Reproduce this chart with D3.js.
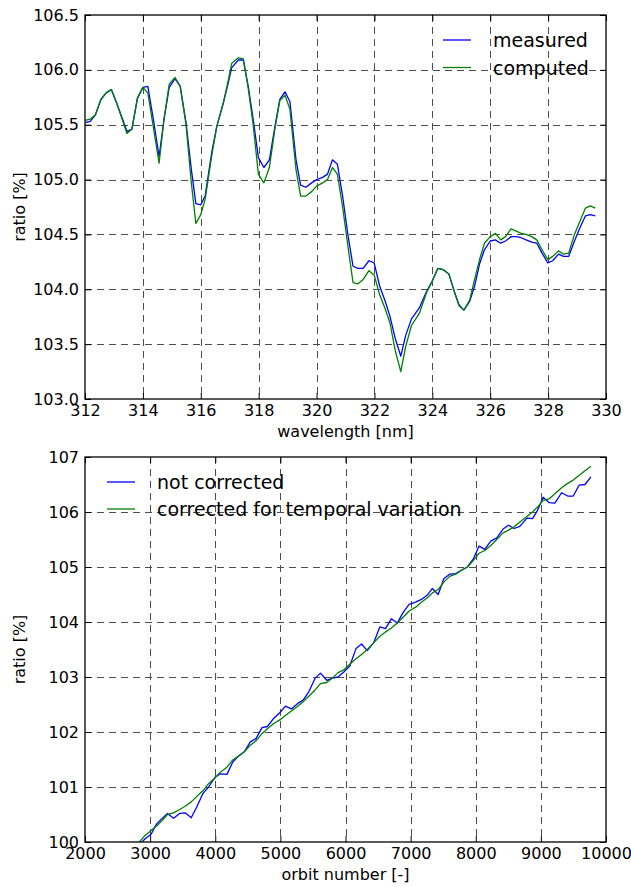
<!DOCTYPE html>
<html>
<head>
<meta charset="utf-8">
<script src="https://cdn.jsdelivr.net/npm/d3@7"></script>
<style>
  html, body { margin: 0; padding: 0; background: #fff; }
  svg { display: block; }
  text { font-family: "DejaVu Sans", sans-serif; fill: #000; }
</style>
</head>
<body>
<svg id="chart" width="631" height="887"></svg>
<script>
// ---------- Top panel data ----------
const wavelength = [312.01,312.18,312.36,312.55,312.73,312.91,313.09,313.27,313.45,313.62,313.81,314.00,314.17,314.36,314.56,314.73,314.91,315.11,315.29,315.49,315.67,315.83,316.00,316.15,316.38,316.55,316.78,316.93,317.07,317.30,317.47,317.64,317.81,317.99,318.18,318.37,318.56,318.73,318.91,319.08,319.29,319.45,319.63,319.83,320.00,320.21,320.38,320.55,320.72,320.90,321.08,321.26,321.43,321.61,321.81,321.99,322.18,322.36,322.53,322.72,322.91,323.08,323.28,323.55,323.80,323.99,324.19,324.37,324.57,324.77,324.92,325.09,325.29,325.46,325.63,325.80,326.00,326.18,326.36,326.53,326.72,326.90,327.07,327.24,327.43,327.61,327.79,327.99,328.16,328.36,328.53,328.71,328.91,329.10,329.29,329.46,329.63];
const measured = [105.52,105.53,105.59,105.73,105.79,105.82,105.70,105.57,105.44,105.46,105.74,105.84,105.85,105.55,105.21,105.55,105.84,105.92,105.85,105.52,105.10,104.78,104.77,104.85,105.25,105.48,105.70,105.86,106.02,106.09,106.09,105.85,105.55,105.20,105.11,105.18,105.48,105.73,105.80,105.71,105.18,104.95,104.93,104.97,105.00,105.02,105.05,105.18,105.14,104.85,104.50,104.21,104.19,104.19,104.26,104.24,104.03,103.90,103.76,103.55,103.39,103.58,103.73,103.83,103.98,104.07,104.19,104.18,104.14,103.97,103.86,103.81,103.89,104.03,104.23,104.36,104.44,104.45,104.42,104.44,104.48,104.48,104.47,104.45,104.43,104.42,104.33,104.24,104.26,104.32,104.30,104.30,104.44,104.56,104.67,104.68,104.67];
const computed = [105.54,105.55,105.59,105.73,105.79,105.82,105.70,105.56,105.42,105.46,105.74,105.84,105.79,105.48,105.15,105.55,105.87,105.93,105.85,105.50,104.98,104.60,104.68,104.82,105.22,105.48,105.70,105.88,106.06,106.11,106.10,105.83,105.50,105.05,104.97,105.11,105.46,105.72,105.77,105.64,105.09,104.85,104.85,104.89,104.94,104.97,105.00,105.11,105.05,104.75,104.40,104.06,104.05,104.09,104.17,104.13,103.95,103.83,103.70,103.44,103.25,103.48,103.67,103.78,103.97,104.07,104.19,104.18,104.14,103.97,103.85,103.81,103.90,104.09,104.27,104.42,104.48,104.51,104.45,104.48,104.55,104.53,104.51,104.50,104.48,104.45,104.36,104.27,104.30,104.35,104.32,104.33,104.50,104.62,104.74,104.76,104.74];
const topXTicks = [312,314,316,318,320,322,324,326,328,330];
const topYTicks = [103.0,103.5,104.0,104.5,105.0,105.5,106.0,106.5];
const topSeriesNames = ["measured","computed"];

// ---------- Bottom panel data ----------
const orbit = [2730,2820,2923,3015,3100,3185,3266,3359,3454,3538,3631,3718,3810,3897,4000,4077,4180,4267,4344,4446,4538,4626,4718,4800,4892,4990,5077,5169,5267,5349,5436,5530,5615,5712,5800,5885,5974,6066,6162,6246,6334,6431,6528,6615,6705,6795,6888,6977,7077,7165,7257,7334,7423,7512,7600,7692,7780,7872,7965,8051,8138,8231,8323,8420,8503,8589,8677,8785,8872,8949,9035,9128,9215,9318,9411,9497,9589,9677,9769];
const notCorrected = [99.84,99.93,100.06,100.14,100.33,100.43,100.52,100.43,100.52,100.53,100.44,100.64,100.88,101.00,101.18,101.24,101.23,101.45,101.55,101.64,101.82,101.88,102.08,102.10,102.24,102.35,102.47,102.42,102.52,102.58,102.73,102.97,103.07,102.94,102.98,103.00,103.09,103.20,103.52,103.60,103.48,103.62,103.91,103.88,104.06,103.98,104.18,104.32,104.36,104.41,104.49,104.61,104.50,104.79,104.87,104.88,104.94,105.00,105.15,105.38,105.32,105.47,105.53,105.69,105.76,105.70,105.74,105.89,105.88,106.03,106.27,106.17,106.16,106.35,106.29,106.29,106.49,106.50,106.64];
const correctedTemporal = [99.86,99.98,100.12,100.21,100.29,100.39,100.50,100.53,100.59,100.65,100.73,100.83,100.93,101.06,101.17,101.27,101.36,101.49,101.55,101.64,101.76,101.84,101.97,102.06,102.15,102.22,102.30,102.38,102.47,102.55,102.65,102.76,102.88,102.90,102.98,103.08,103.13,103.23,103.33,103.41,103.50,103.62,103.74,103.82,103.89,103.98,104.09,104.20,104.27,104.36,104.44,104.53,104.59,104.73,104.83,104.87,104.94,105.00,105.12,105.25,105.30,105.39,105.50,105.62,105.67,105.73,105.82,105.92,106.00,106.09,106.21,106.24,106.33,106.44,106.52,106.58,106.67,106.75,106.83];
const botXTicks = [2000,3000,4000,5000,6000,7000,8000,9000,10000];
const botYTicks = [100,101,102,103,104,105,106,107];
const botSeriesNames = ["not corrected","corrected for temporal variation"];

const colors = ["#0000ff", "#008000"];

const svg = d3.select("#chart");
const L = 85, R = 606;

function panel(opts) {
  const { id, x, y, xTicks, yTicks, xFmt, yFmt, xLabel, yLabel, series, names, legend } = opts;
  const top = y.range()[1], bottom = y.range()[0];
  const g = svg.append("g");

  g.append("clipPath").attr("id", id)
    .append("rect").attr("x", L).attr("y", top).attr("width", R - L).attr("height", bottom - top);

  // grid
  const grid = g.append("g").attr("stroke", "#222").attr("stroke-width", 1)
    .attr("stroke-dasharray", "7,5").attr("opacity", 0.8);
  xTicks.slice(1, -1).forEach(t => {
    const px = Math.round(x(t)) + 0.5;
    grid.append("line").attr("x1", px).attr("x2", px).attr("y1", top).attr("y2", bottom);
  });
  yTicks.slice(1, -1).forEach(t => {
    const py = Math.round(y(t)) + 0.5;
    grid.append("line").attr("x1", L).attr("x2", R).attr("y1", py).attr("y2", py);
  });

  // lines
  const lg = g.append("g").attr("clip-path", `url(#${id})`);
  series.forEach((s, i) => {
    const line = d3.line().x((d, j) => x(s.xs[j])).y(d => y(d));
    lg.append("path").datum(s.ys).attr("d", line)
      .attr("fill", "none").attr("stroke", colors[i]).attr("stroke-width", 1.3)
      .attr("stroke-linejoin", "round");
  });

  // axes with inward ticks
  const tick = 6;
  const axB = d3.axisBottom(x).tickValues(xTicks).tickSize(-tick).tickPadding(6).tickFormat(xFmt);
  const axT = d3.axisTop(x).tickValues(xTicks).tickSize(-tick).tickFormat("");
  const axL = d3.axisLeft(y).tickValues(yTicks).tickSize(-tick).tickPadding(6).tickFormat(yFmt);
  const axR = d3.axisRight(y).tickValues(yTicks).tickSize(-tick).tickFormat("");
  const styleAx = sel => {
    sel.select(".domain").remove();
    sel.selectAll("line").attr("stroke", "#000").attr("stroke-width", 1);
    sel.selectAll("text").attr("font-family", "DejaVu Sans").attr("font-size", 16).attr("fill", "#000");
  };
  g.append("g").attr("transform", `translate(0,${bottom})`).call(axB).call(styleAx);
  g.append("g").attr("transform", `translate(0,${top})`).call(axT).call(styleAx);
  g.append("g").attr("transform", `translate(${L},0)`).call(axL).call(styleAx);
  g.append("g").attr("transform", `translate(${R},0)`).call(axR).call(styleAx);

  // frame
  g.append("rect").attr("x", L).attr("y", top).attr("width", R - L).attr("height", bottom - top)
    .attr("fill", "none").attr("stroke", "#000").attr("stroke-width", 1.3);

  // axis labels
  g.append("text").attr("x", (L + R) / 2).attr("y", bottom + 38).attr("text-anchor", "middle")
    .attr("font-size", 16).text(xLabel);
  g.append("text").attr("transform", `translate(25,${(top + bottom) / 2}) rotate(-90)`)
    .attr("text-anchor", "middle").attr("font-size", 16).text(yLabel);

  // legend
  names.forEach((n, i) => {
    const ly = legend.y + i * legend.dy;
    g.append("line").attr("x1", legend.x).attr("x2", legend.x + 28).attr("y1", ly).attr("y2", ly)
      .attr("stroke", colors[i]).attr("stroke-width", 1.3);
    g.append("text").attr("x", legend.x + 50).attr("y", ly + 7).attr("font-size", 19).text(n);
  });
}

const xTop = d3.scaleLinear().domain([312, 330]).range([L, R]);
const yTop = d3.scaleLinear().domain([103, 106.5]).range([399, 15]);
panel({
  id: "clipTop", x: xTop, y: yTop, xTicks: topXTicks, yTicks: topYTicks,
  xFmt: d3.format("d"), yFmt: d3.format(".1f"),
  xLabel: "wavelength [nm]", yLabel: "ratio [%]",
  series: [{ xs: wavelength, ys: measured }, { xs: wavelength, ys: computed }],
  names: topSeriesNames, legend: { x: 443, y: 40, dy: 27.5 }
});

const xBot = d3.scaleLinear().domain([2000, 10000]).range([L, R]);
const yBot = d3.scaleLinear().domain([100, 107]).range([842, 457]);
panel({
  id: "clipBot", x: xBot, y: yBot, xTicks: botXTicks, yTicks: botYTicks,
  xFmt: d3.format("d"), yFmt: d3.format("d"),
  xLabel: "orbit number [-]", yLabel: "ratio [%]",
  series: [{ xs: orbit, ys: notCorrected }, { xs: orbit, ys: correctedTemporal }],
  names: botSeriesNames, legend: { x: 107, y: 482, dy: 27 }
});
</script>
</body>
</html>
